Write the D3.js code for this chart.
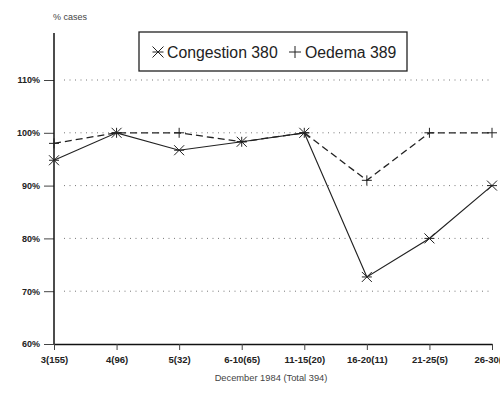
<!DOCTYPE html>
<html>
<head>
<meta charset="utf-8">
<script src="https://cdn.jsdelivr.net/npm/d3@7"></script>
<style>
  body { margin: 0; background: #fff; }
  svg { display: block; }
  .tick-label { font-family: 'Liberation Sans', Arial, sans-serif; font-weight: bold; font-size: 9.5px; fill: #222; }
</style>
</head>
<body>
<svg width="500" height="397"></svg>
<script>
const periods = ['3(155)', '4(96)', '5(32)', '6-10(65)', '11-15(20)', '16-20(11)', '21-25(5)', '26-30(1)'];
const congestion = [94.8, 100, 96.7, 98.3, 100, 72.7, 80, 90];
const oedema = [98, 100, 100, 98.3, 100, 91, 100, 100];
const yTicks = [60, 70, 80, 90, 100, 110];

const svg = d3.select('svg');
const left = 54;
const right = 492;
const bottom = 344;

const x = d3.scalePoint().domain(periods).range([left, right]);
const y = d3.scaleLinear().domain([60, 110]).range([bottom, 80]);

// gridlines
svg.append('g')
  .selectAll('line')
  .data(yTicks.filter(d => d > 60))
  .enter()
  .append('line')
  .attr('x1', left + 10)
  .attr('x2', right - 2)
  .attr('y1', d => y(d))
  .attr('y2', d => y(d))
  .attr('stroke', '#777')
  .attr('stroke-width', 1)
  .attr('stroke-dasharray', '1,4.5');

// y axis
const yAxis = svg.append('g')
  .attr('transform', `translate(${left},0)`)
  .call(d3.axisLeft(y).tickValues(yTicks).tickSize(10).tickFormat(d => d + '%'));
yAxis.select('.domain').remove();
yAxis.selectAll('.tick line').attr('stroke', '#444');
yAxis.selectAll('.tick text').attr('class', 'tick-label').attr('x', -14).style('font-size', '9px');
svg.append('line')
  .attr('x1', left).attr('x2', left)
  .attr('y1', 33).attr('y2', bottom)
  .attr('stroke', '#111').attr('stroke-width', 1.5);

// x axis
const xAxis = svg.append('g')
  .attr('transform', `translate(0,${bottom})`)
  .call(d3.axisBottom(x).tickSize(6).tickSizeOuter(0));
xAxis.select('.domain').attr('stroke', '#111').attr('stroke-width', 1.5);
xAxis.selectAll('.tick line').attr('stroke', '#444');
xAxis.selectAll('.tick text').attr('class', 'tick-label').attr('y', 12);

svg.append('text')
  .attr('x', 271).attr('y', 381)
  .attr('text-anchor', 'middle')
  .style('font-family', "'Liberation Sans', Arial, sans-serif")
  .style('font-size', '9.3px')
  .style('fill', '#444')
  .text('December 1984 (Total 394)');

svg.append('text')
  .attr('x', 53).attr('y', 20)
  .style('font-family', "'Liberation Sans', Arial, sans-serif")
  .style('font-size', '9px')
  .style('fill', '#444')
  .text('% cases');

// lines
const line = d3.line()
  .x((d, i) => x(periods[i]))
  .y(d => y(d));

svg.append('path')
  .datum(oedema)
  .attr('d', line)
  .attr('fill', 'none')
  .attr('stroke', '#222')
  .attr('stroke-width', 1.3)
  .attr('stroke-dasharray', '7,4');

svg.append('path')
  .datum(congestion)
  .attr('d', line)
  .attr('fill', 'none')
  .attr('stroke', '#222')
  .attr('stroke-width', 1.2);

const star = (g, cx, cy, r) => {
  g.append('path')
    .attr('d', `M${cx - r},${cy - r}L${cx + r},${cy + r}M${cx - r},${cy + r}L${cx + r},${cy - r}M${cx - r},${cy}L${cx + r},${cy}`)
    .attr('stroke', '#222').attr('stroke-width', 1).attr('fill', 'none');
};
const plus = (g, cx, cy, r) => {
  g.append('path')
    .attr('d', `M${cx - r},${cy}L${cx + r},${cy}M${cx},${cy - r}L${cx},${cy + r}`)
    .attr('stroke', '#222').attr('stroke-width', 1).attr('fill', 'none');
};

const marks = svg.append('g');
oedema.forEach((d, i) => plus(marks, x(periods[i]), y(d), 5));
congestion.forEach((d, i) => star(marks, x(periods[i]), y(d), 5));

// legend
const legend = svg.append('g');
legend.append('rect')
  .attr('x', 139).attr('y', 32)
  .attr('width', 268).attr('height', 39)
  .attr('fill', '#fff')
  .attr('stroke', '#222')
  .attr('stroke-width', 1.3);
star(legend, 158, 52, 5.5);
plus(legend, 295, 52, 6);
legend.append('text')
  .attr('x', 167).attr('y', 58)
  .style('font-family', "'Liberation Sans', Arial, sans-serif")
  .style('font-size', '15.8px')
  .style('fill', '#222')
  .text('Congestion 380');
legend.append('text')
  .attr('x', 305).attr('y', 58)
  .style('font-family', "'Liberation Sans', Arial, sans-serif")
  .style('font-size', '15.8px')
  .style('fill', '#222')
  .text('Oedema 389');
</script>
</body>
</html>
